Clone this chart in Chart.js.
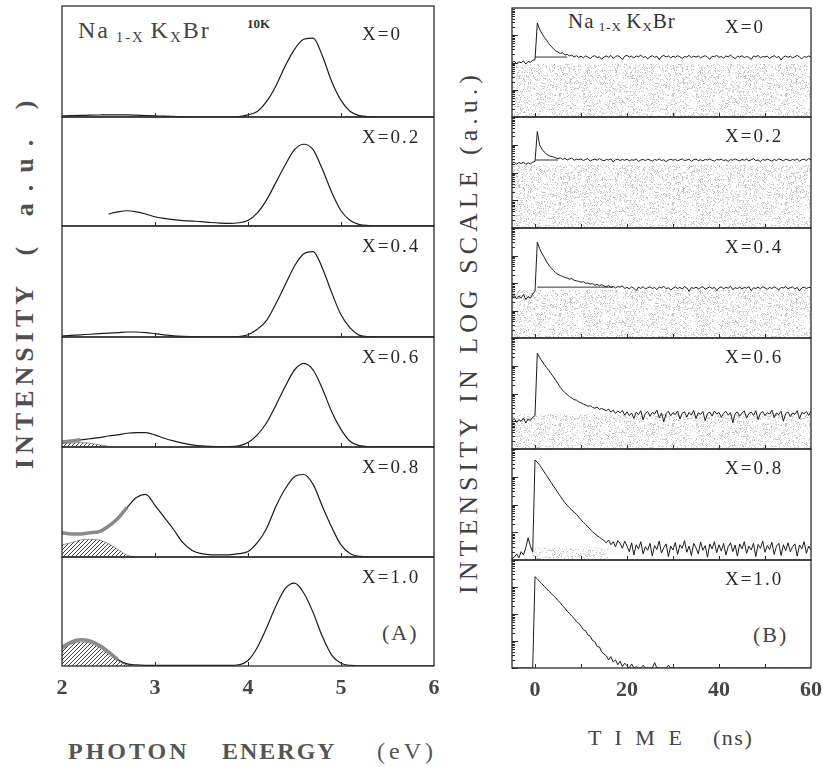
<!DOCTYPE html>
<html>
<head>
<meta charset="utf-8">
<script src="https://cdn.jsdelivr.net/npm/chart.js@4.4.0/dist/chart.umd.min.js"></script>
<style>
  body { margin: 0; background: #fff; width: 823px; height: 767px; position: relative; overflow: hidden;
         font-family: "Liberation Serif", "Times New Roman", "DejaVu Serif", serif; color: #4a4a4a; }
  .txt { position: absolute; white-space: pre; line-height: 1; }
  .rot { transform: translate(-50%, -50%) rotate(-90deg); }
  .sub { font-size: 0.62em; position: relative; top: 0.25em; }
</style>
</head>
<body>
<div class="txt rot" style="left:25px;top:375px;font-size:26px;font-weight:bold;letter-spacing:5px;color:#505050">INTENSITY</div>
<div class="txt rot" style="left:25px;top:172px;font-size:26px;font-weight:bold;letter-spacing:12px;color:#505050">( a.u. )</div>
<div class="txt rot" style="left:469px;top:332px;font-size:26px;letter-spacing:5px;color:#404040">INTENSITY IN LOG SCALE (a.u.)</div>

<div class="txt" style="left:68px;top:739px;font-size:24px;font-weight:bold;letter-spacing:3px;color:#555">PHOTON</div>
<div class="txt" style="left:222px;top:739px;font-size:24px;font-weight:bold;letter-spacing:2px;color:#555">ENERGY</div>
<div class="txt" style="left:377px;top:739px;font-size:24px;letter-spacing:4px;color:#555">(eV)</div>
<div class="txt" style="left:588px;top:727px;font-size:22px;letter-spacing:4px;color:#444">T I M E</div>
<div class="txt" style="left:713px;top:727px;font-size:22px;letter-spacing:1.5px;color:#444">(ns)</div>

<div class="txt" style="left:78px;top:18px;font-size:24px;letter-spacing:2px;color:#444">Na<span class="sub"> 1-X </span>K<span class="sub">X</span>Br</div>
<div class="txt" style="left:247px;top:17px;font-size:13px;font-weight:bold;color:#333">10K</div>
<div class="txt" style="left:568px;top:11px;font-size:21px;letter-spacing:1px;color:#333">Na<span class="sub"> 1-X </span>K<span class="sub">X</span>Br</div>
<div class="txt" style="left:382px;top:622px;font-size:22px;letter-spacing:2px;color:#444">(A)</div>
<div class="txt" style="left:753px;top:624px;font-size:22px;letter-spacing:2px;color:#444">(B)</div>

<script>
// ---- data ----
const compositions = ["X=0", "X=0.2", "X=0.4", "X=0.6", "X=0.8", "X=1.0"];

const energyEv = [2.0, 2.1, 2.2, 2.3, 2.4, 2.5, 2.6, 2.7, 2.8, 2.9,
  3.0, 3.1, 3.2, 3.3, 3.4, 3.5, 3.6, 3.7, 3.8, 3.9,
  4.0, 4.1, 4.2, 4.3, 4.4, 4.5, 4.6, 4.7, 4.8, 4.9,
  5.0, 5.1, 5.2, 5.3, 5.4, 5.5, 5.6, 5.7, 5.8, 5.9, 6.0];
const energyTickLabels = [2, 3, 4, 5, 6];
const energyTickMarks = [3, 4, 5];

// emission spectra, intensity as fraction of panel height
const specX00 = [0.01, 0.012, 0.014, 0.016, 0.018, 0.02, 0.02, 0.019, 0.016, 0.013,
  0.01, 0.007, 0.005, 0.003, 0.002, 0.002, 0.002, 0.002, 0.002, 0.003,
  0.02, 0.05, 0.14, 0.28, 0.46, 0.61, 0.70, 0.71, 0.55, 0.32,
  0.15, 0.05, 0.012, 0.003, 0.002, 0.002, 0.002, 0.002, 0.002, 0.002, 0.002];
const specX02 = [null, null, null, null, null, 0.11, 0.13, 0.14, 0.13, 0.11,
  0.085, 0.07, 0.058, 0.05, 0.045, 0.04, 0.032, 0.027, 0.025, 0.03,
  0.05, 0.12, 0.24, 0.40, 0.56, 0.70, 0.75, 0.70, 0.52, 0.31,
  0.14, 0.05, 0.012, 0.004, 0.002, 0.002, 0.002, 0.002, 0.002, 0.002, 0.002];
const specX04 = [0.01, 0.015, 0.02, 0.025, 0.03, 0.035, 0.04, 0.045, 0.045, 0.04,
  0.03, 0.02, 0.01, 0.005, 0.003, 0.002, 0.002, 0.002, 0.002, 0.004,
  0.02, 0.07, 0.15, 0.30, 0.47, 0.64, 0.75, 0.77, 0.62, 0.40,
  0.20, 0.08, 0.015, 0.003, 0.002, 0.002, 0.002, 0.002, 0.002, 0.002, 0.002];
const specX06 = [0.045, 0.055, 0.065, 0.075, 0.085, 0.10, 0.11, 0.125, 0.13, 0.13,
  0.11, 0.08, 0.055, 0.035, 0.02, 0.01, 0.006, 0.004, 0.004, 0.01,
  0.04, 0.11, 0.22, 0.38, 0.55, 0.70, 0.76, 0.70, 0.53, 0.32,
  0.16, 0.05, 0.012, 0.003, 0.002, 0.002, 0.002, 0.002, 0.002, 0.002, 0.002];
const specX08 = [0.22, 0.21, 0.21, 0.22, 0.23, 0.28, 0.35, 0.45, 0.54, 0.57,
  0.47, 0.36, 0.25, 0.13, 0.06, 0.03, 0.02, 0.02, 0.02, 0.03,
  0.05, 0.13, 0.26, 0.46, 0.62, 0.73, 0.75, 0.66, 0.46, 0.27,
  0.11, 0.03, 0.006, 0.002, 0.002, 0.002, 0.002, 0.002, 0.002, 0.002, 0.002];
const specX10 = [0.17, 0.22, 0.24, 0.23, 0.19, 0.13, 0.06, 0.02, 0.01, 0.006,
  0.005, 0.005, 0.005, 0.005, 0.005, 0.005, 0.005, 0.005, 0.005, 0.01,
  0.05, 0.17, 0.35, 0.55, 0.71, 0.76, 0.67, 0.49, 0.27, 0.10,
  0.025, 0.005, 0.002, 0.002, 0.002, 0.002, 0.002, 0.002, 0.002, 0.002, 0.002];

// hatched low-energy band
const hatchX06 = [0.03, 0.036, 0.04, 0.035, 0.02, 0.005];
const hatchX08 = [0.11, 0.13, 0.155, 0.16, 0.155, 0.12, 0.07, 0.015, 0];
const hatchX10 = [0.15, 0.2, 0.22, 0.21, 0.17, 0.11, 0.05, 0.01, 0];
// noisy grey part of the trace, up to this energy
const greyUntilEv = [null, null, null, 2.2, 2.75, 2.6];

// decay curves: log10 intensity sampled every 0.5 ns from -5 ns to 60 ns
const timeNs = Array.from({ length: 131 }, (_, i) => -5 + i * 0.5);
const timeTickLabels = [0, 20, 40, 60];
const timeTickMarks = [0, 10, 20, 30, 40, 50];

const decayX00 = [
  2.00, 2.05, 1.96, 2.03, 1.99, 2.06, 1.94, 2.04, 2.01, 2.08,
  2.10, 3.45, 3.22, 3.07, 2.93, 2.82, 2.70, 2.60, 2.50, 2.43,
  2.38, 2.33, 2.36, 2.27, 2.30, 2.24, 2.27, 2.20, 2.25, 2.19,
  2.23, 2.17, 2.24, 2.20, 2.14, 2.22, 2.25, 2.18, 2.21, 2.12,
  2.20, 2.24, 2.19, 2.26, 2.15, 2.22, 2.25, 2.20, 2.11, 2.23,
  2.26, 2.20, 2.23, 2.16, 2.24, 2.21, 2.27, 2.18, 2.22, 2.13,
  2.21, 2.25, 2.19, 2.23, 2.10, 2.22, 2.26, 2.20, 2.24, 2.17,
  2.23, 2.19, 2.25, 2.21, 2.15, 2.22, 2.20, 2.26, 2.18, 2.23,
  2.20, 2.24, 2.17, 2.22, 2.25, 2.19, 2.12, 2.23, 2.21, 2.26,
  2.19, 2.22, 2.16, 2.24, 2.21, 2.27, 2.20, 2.14, 2.23, 2.20,
  2.25, 2.18, 2.22, 2.19, 2.11, 2.24, 2.21, 2.26, 2.17, 2.22,
  2.20, 2.23, 2.15, 2.21, 2.25, 2.18, 2.22, 2.09, 2.20, 2.24,
  2.19, 2.23, 2.17, 2.21, 2.26, 2.20, 2.13, 2.22, 2.19, 2.24,
  2.20];
const decayX02 = [
  2.33, 2.37, 2.30, 2.36, 2.32, 2.38, 2.29, 2.35, 2.31, 2.37,
  2.40, 3.48, 3.00, 2.84, 2.74, 2.66, 2.61, 2.58, 2.56, 2.53,
  2.50, 2.53, 2.47, 2.51, 2.45, 2.49, 2.52, 2.44, 2.48, 2.46,
  2.49, 2.43, 2.47, 2.50, 2.41, 2.46, 2.48, 2.44, 2.50, 2.45,
  2.42, 2.47, 2.45, 2.49, 2.38, 2.46, 2.48, 2.43, 2.47, 2.44,
  2.48, 2.42, 2.46, 2.44, 2.49, 2.40, 2.45, 2.47, 2.43, 2.48,
  2.45, 2.41, 2.47, 2.44, 2.49, 2.43, 2.46, 2.39, 2.45, 2.48,
  2.44, 2.47, 2.42, 2.46, 2.49, 2.43, 2.45, 2.48, 2.40, 2.46,
  2.48, 2.43, 2.46, 2.42, 2.47, 2.45, 2.49, 2.44, 2.41, 2.47,
  2.45, 2.48, 2.43, 2.46, 2.40, 2.47, 2.44, 2.49, 2.45, 2.42,
  2.47, 2.44, 2.48, 2.42, 2.46, 2.50, 2.43, 2.45, 2.39, 2.47,
  2.44, 2.48, 2.45, 2.41, 2.47, 2.43, 2.49, 2.46, 2.42, 2.48,
  2.45, 2.43, 2.47, 2.44, 2.49, 2.41, 2.46, 2.48, 2.43, 2.50,
  2.46];
const decayX04 = [
  1.48, 1.55, 1.42, 1.52, 1.46, 1.58, 1.40, 1.50, 1.45, 1.60,
  1.70, 3.48, 3.25, 3.08, 2.94, 2.78, 2.65, 2.55, 2.46, 2.38,
  2.31, 2.27, 2.24, 2.20, 2.18, 2.14, 2.16, 2.10, 2.08, 2.06,
  2.03, 2.05, 1.99, 2.00, 1.96, 1.98, 1.92, 1.95, 1.90, 1.94,
  1.89, 1.86, 1.91, 1.84, 1.88, 1.82, 1.87, 1.85, 1.90, 1.80,
  1.84, 1.79, 1.86, 1.81, 1.72, 1.85, 1.80, 1.87, 1.78, 1.83,
  1.86, 1.80, 1.84, 1.76, 1.85, 1.82, 1.88, 1.79, 1.83, 1.74,
  1.81, 1.86, 1.80, 1.84, 1.78, 1.87, 1.82, 1.70, 1.84, 1.80,
  1.85, 1.79, 1.83, 1.87, 1.77, 1.82, 1.86, 1.80, 1.84, 1.73,
  1.82, 1.86, 1.79, 1.84, 1.81, 1.88, 1.76, 1.83, 1.80, 1.85,
  1.78, 1.84, 1.81, 1.87, 1.72, 1.83, 1.80, 1.85, 1.79, 1.86,
  1.82, 1.77, 1.84, 1.80, 1.86, 1.81, 1.75, 1.84, 1.82, 1.87,
  1.79, 1.83, 1.86, 1.78, 1.84, 1.71, 1.82, 1.85, 1.80, 1.84,
  1.83];
const decayX06 = [
  1.02, 1.10, 0.96, 1.06, 1.00, 1.12, 0.94, 1.08, 1.03, 1.14,
  1.20, 3.45, 3.30, 3.17, 3.05, 2.94, 2.83, 2.71, 2.60, 2.48,
  2.35, 2.22, 2.12, 2.03, 1.96, 1.89, 1.84, 1.78, 1.76, 1.70,
  1.66, 1.62, 1.59, 1.54, 1.56, 1.50, 1.47, 1.51, 1.43, 1.46,
  1.42, 1.38, 1.44, 1.33, 1.40, 1.28, 1.37, 1.31, 1.39, 1.22,
  1.34, 1.20, 1.30, 1.10, 1.33, 1.24, 1.38, 1.05, 1.29, 1.35,
  1.18, 1.32, 1.26, 1.40, 1.12, 1.30, 0.98, 1.28, 1.36, 1.20,
  1.31, 1.24, 1.37, 1.08, 1.29, 1.34, 1.15, 1.32, 1.22, 1.39,
  1.10, 1.30, 1.25, 1.35, 1.02, 1.28, 1.33, 1.19, 1.37, 1.26,
  1.32, 1.14, 1.29, 1.36, 1.22, 1.31, 0.95, 1.27, 1.34, 1.18,
  1.30, 1.37, 1.11, 1.28, 1.33, 1.21, 1.38, 1.06, 1.29, 1.35,
  1.20, 1.31, 1.26, 1.40, 1.13, 1.30, 1.24, 1.36, 1.00, 1.28,
  1.34, 1.17, 1.30, 1.25, 1.38, 1.09, 1.32, 1.27, 1.35, 1.21,
  1.36];
const decayX08 = [
  0.05, 0.10, 0.22, 0.08, 0.30, 0.18, 0.45, 0.80, 0.50, 0.28,
  3.60, 3.52, 3.42, 3.30, 3.17, 3.05, 2.92, 2.80, 2.67, 2.55,
  2.42, 2.30, 2.18, 2.06, 1.97, 1.88, 1.80, 1.72, 1.65, 1.55,
  1.45, 1.36, 1.28, 1.20, 1.10, 1.02, 0.95, 0.88, 0.82, 0.76,
  0.70, 0.62, 0.72, 0.55, 0.66, 0.48, 0.70, 0.60, 0.42, 0.68,
  0.50, 0.30, 0.62, 0.18, 0.55, 0.40, 0.66, 0.22, 0.48, 0.35,
  0.60, 0.15, 0.52, 0.38, 0.68, 0.25, 0.45, 0.58, 0.12, 0.50,
  0.36, 0.63, 0.20, 0.55, 0.42, 0.70, 0.28, 0.50, 0.16, 0.60,
  0.44, 0.22, 0.65, 0.35, 0.52, 0.10, 0.58, 0.40, 0.66, 0.26,
  0.55, 0.32, 0.60, 0.18, 0.48, 0.62, 0.30, 0.54, 0.14, 0.58,
  0.40, 0.66, 0.24, 0.50, 0.36, 0.60, 0.12, 0.56, 0.42, 0.68,
  0.28, 0.52, 0.38, 0.64, 0.20, 0.50, 0.60, 0.16, 0.55, 0.34,
  0.62, 0.30, 0.48, 0.58, 0.14, 0.54, 0.40, 0.66, 0.24, 0.50,
  0.36];
const decayX10 = [
  0, 0, 0, 0, 0, 0, 0, 0, 0, 0,
  3.38, 3.30, 3.21, 3.12, 3.03, 2.94, 2.85, 2.77, 2.68, 2.60,
  2.50, 2.41, 2.30, 2.22, 2.10, 2.02, 1.92, 1.84, 1.72, 1.66,
  1.55, 1.42, 1.38, 1.22, 1.18, 1.02, 0.98, 0.80, 0.78, 0.60,
  0.52, 0.45, 0.30, 0.42, 0.22, 0.30, 0.12, 0.25, 0.05, 0.18,
  0.08, 0, 0.15, 0, 0.05, 0, 0, 0.10, 0, 0,
  0, 0, 0.20, 0, 0, 0, 0, 0, 0.10, 0,
  0, 0, 0, 0, 0, 0, 0, 0, 0, 0,
  0, 0, 0, 0, 0, 0, 0, 0, 0, 0,
  0, 0, 0, 0, 0, 0, 0, 0, 0, 0,
  0, 0, 0, 0, 0, 0, 0, 0, 0, 0,
  0, 0, 0, 0, 0, 0, 0, 0, 0, 0,
  0, 0, 0, 0, 0, 0, 0, 0, 0, 0,
  0];

// grey stippled background under the traces (log10 level, from, to)
const stippleLevel = [1.95, 2.27, 1.75, 1.25, 0.45, null];
const stippleFrom = [-5, -5, -5, -5, -0.5, null];
const stippleTo = [60, 60, 60, 60, 16, null];
// short horizontal reference lines after the pulse
const markerLevel = [2.2, 2.45, 1.85, null, null, null];
const markerFrom = [0, 0, 0.5, null, null, null];
const markerTo = [7, 5, 17, null, null, null];

const spectra = [specX00, specX02, specX04, specX06, specX08, specX10];
const hatches = [null, null, null, hatchX06, hatchX08, hatchX10];
const decays = [decayX00, decayX02, decayX04, decayX06, decayX08, decayX10];

// ---- layout ----
const leftCol = { x: 62, w: 372, tops: [6, 117, 226, 337, 447, 557], bottom: 666, labelDx: 300 };
const rightCol = { x: 512, w: 299, tops: [8, 117, 228, 338, 449, 560], bottom: 668, labelDx: 213 };
const serif = '"Liberation Serif", "Times New Roman", "DejaVu Serif", serif';
const lineColor = '#1c1c1c';

const logTickMarks = [];
for (let d = 0; d < 4; d++) {
  for (let k = 1; k <= 9; k++) logTickMarks.push({ v: d + Math.log10(k), len: k === 1 ? 6 : 3 });
}

function hatchPattern() {
  const c = document.createElement('canvas');
  c.width = 4; c.height = 4;
  const g = c.getContext('2d');
  g.strokeStyle = '#2a2a2a';
  g.lineWidth = 0.9;
  g.beginPath();
  g.moveTo(0, 4); g.lineTo(4, 0);
  g.moveTo(-1, 1); g.lineTo(1, -1);
  g.moveTo(3, 5); g.lineTo(5, 3);
  g.stroke();
  return g.createPattern(c, 'repeat');
}

function stipplePattern() {
  const w = 113, h = 71;
  const c = document.createElement('canvas');
  c.width = w; c.height = h;
  const g = c.getContext('2d');
  const img = g.createImageData(w, h);
  for (let j = 0; j < h; j++) {
    for (let i = 0; i < w; i++) {
      let s = (Math.imul(i, 374761393) + Math.imul(j, 668265263)) | 0;
      s = Math.imul(s ^ (s >>> 13), 1274126177);
      s = (s ^ (s >>> 16)) >>> 0;
      const k = (j * w + i) * 4;
      if (s % 100 < 26) {
        const grey = 150 + (s >>> 8) % 80;
        img.data[k] = img.data[k + 1] = img.data[k + 2] = grey;
        img.data[k + 3] = 170;
      }
    }
  }
  g.putImageData(img, 0, 0);
  return g.createPattern(c, 'repeat');
}

const hatchFill = hatchPattern();
const stippleFill = stipplePattern();

function decor(cfg) {
  return {
    id: 'panelDecor',
    afterDatasetsDraw(chart) {
      const { ctx, chartArea: a } = chart;
      const x = chart.scales.x, y = chart.scales.y;
      ctx.save();
      ctx.strokeStyle = '#2b2b2b';
      ctx.lineWidth = 1.3;
      ctx.strokeRect(a.left, a.top, a.right - a.left, a.bottom - a.top);
      ctx.lineWidth = 1;
      ctx.beginPath();
      cfg.xTicks.forEach(v => {
        const px = Math.round(x.getPixelForValue(v)) + 0.5;
        ctx.moveTo(px, a.bottom);
        ctx.lineTo(px, a.bottom - 4);
      });
      cfg.yTicks.forEach(t => {
        const py = Math.round(y.getPixelForValue(t.v)) + 0.5;
        ctx.moveTo(a.left, py);
        ctx.lineTo(a.left + t.len, py);
      });
      ctx.stroke();
      ctx.fillStyle = '#2a2a2a';
      ctx.font = '19px ' + serif;
      ctx.letterSpacing = '2px';
      ctx.fillText(cfg.label, a.left + cfg.labelDx, a.top + cfg.labelDy);
      ctx.restore();
    }
  };
}

function addPanel(col, i, datasets, xRange, tickLabels, tickMarks, yMax, yTicks) {
  const top = col.tops[i];
  const bottom = i < 5 ? col.tops[i + 1] : col.bottom;
  const h = bottom - top;
  const last = i === 5;
  const canvas = document.createElement('canvas');
  canvas.width = col.w + 40;
  canvas.height = last ? h + 41 : h + 2;
  canvas.style.cssText = `position:absolute;left:${col.x - 20}px;top:${top - 1}px`;
  document.body.appendChild(canvas);

  new Chart(canvas, {
    type: 'line',
    data: { datasets },
    options: {
      responsive: false,
      animation: false,
      events: [],
      layout: { autoPadding: false, padding: { left: 20, right: 20, top: 1, bottom: last ? 0 : 1 } },
      plugins: { legend: { display: false }, tooltip: { enabled: false } },
      scales: {
        x: {
          type: 'linear', min: xRange[0], max: xRange[1], display: last,
          grid: { display: false, drawTicks: false }, border: { display: false },
          afterBuildTicks: s => { s.ticks = tickLabels.map(v => ({ value: v })); },
          afterFit: s => { s.height = last ? 40 : 0; },
          ticks: { font: { family: serif, size: 22, weight: 'bold' }, color: '#454545', padding: 9, maxRotation: 0, autoSkip: false }
        },
        y: { type: 'linear', min: 0, max: yMax, display: false }
      }
    },
    plugins: [decor({
      xTicks: tickMarks, yTicks,
      label: compositions[i], labelDx: col.labelDx,
      labelDy: col === leftCol ? (i === 0 ? 34 : 26) : 25
    })]
  });
}

// ---- left column: emission spectra ----
spectra.forEach((spec, i) => {
  const greyUntil = greyUntilEv[i];
  const ds = [{
    data: energyEv.map((e, k) => ({ x: e, y: spec[k] })),
    borderColor: lineColor,
    borderWidth: 1.2,
    pointRadius: 0,
    cubicInterpolationMode: 'monotone',
    fill: false,
    order: 0,
    segment: {
      borderColor: c => (greyUntil !== null && c.p1.parsed.x <= greyUntil + 0.01) ? '#8a8a8a' : undefined,
      borderWidth: c => (greyUntil !== null && c.p1.parsed.x <= greyUntil + 0.01) ? 3.5 : undefined
    }
  }];
  if (hatches[i]) {
    ds.push({
      data: hatches[i].map((v, k) => ({ x: energyEv[k], y: v })),
      borderColor: '#555',
      borderWidth: 0.6,
      pointRadius: 0,
      cubicInterpolationMode: 'monotone',
      fill: 'origin',
      backgroundColor: hatchFill,
      order: 2
    });
  }
  addPanel(leftCol, i, ds, [2, 6], energyTickLabels, energyTickMarks, 1, []);
});

// ---- right column: decay curves (log scale) ----
decays.forEach((decay, i) => {
  const ds = [{
    data: timeNs.map((t, k) => ({ x: t, y: decay[k] })),
    borderColor: lineColor,
    borderWidth: 1,
    pointRadius: 0,
    tension: 0,
    fill: false,
    order: 0
  }];
  if (markerLevel[i] !== null) {
    ds.push({
      data: [{ x: markerFrom[i], y: markerLevel[i] }, { x: markerTo[i], y: markerLevel[i] }],
      borderColor: '#333',
      borderWidth: 1,
      pointRadius: 0,
      fill: false,
      order: 1
    });
  }
  if (stippleLevel[i] !== null) {
    ds.push({
      data: [{ x: stippleFrom[i], y: stippleLevel[i] }, { x: stippleTo[i], y: stippleLevel[i] }],
      borderWidth: 0,
      pointRadius: 0,
      fill: 'origin',
      backgroundColor: stippleFill,
      order: 3
    });
  }
  addPanel(rightCol, i, ds, [-5, 60], timeTickLabels, timeTickMarks, 4, logTickMarks);
});
</script>
</body>
</html>
